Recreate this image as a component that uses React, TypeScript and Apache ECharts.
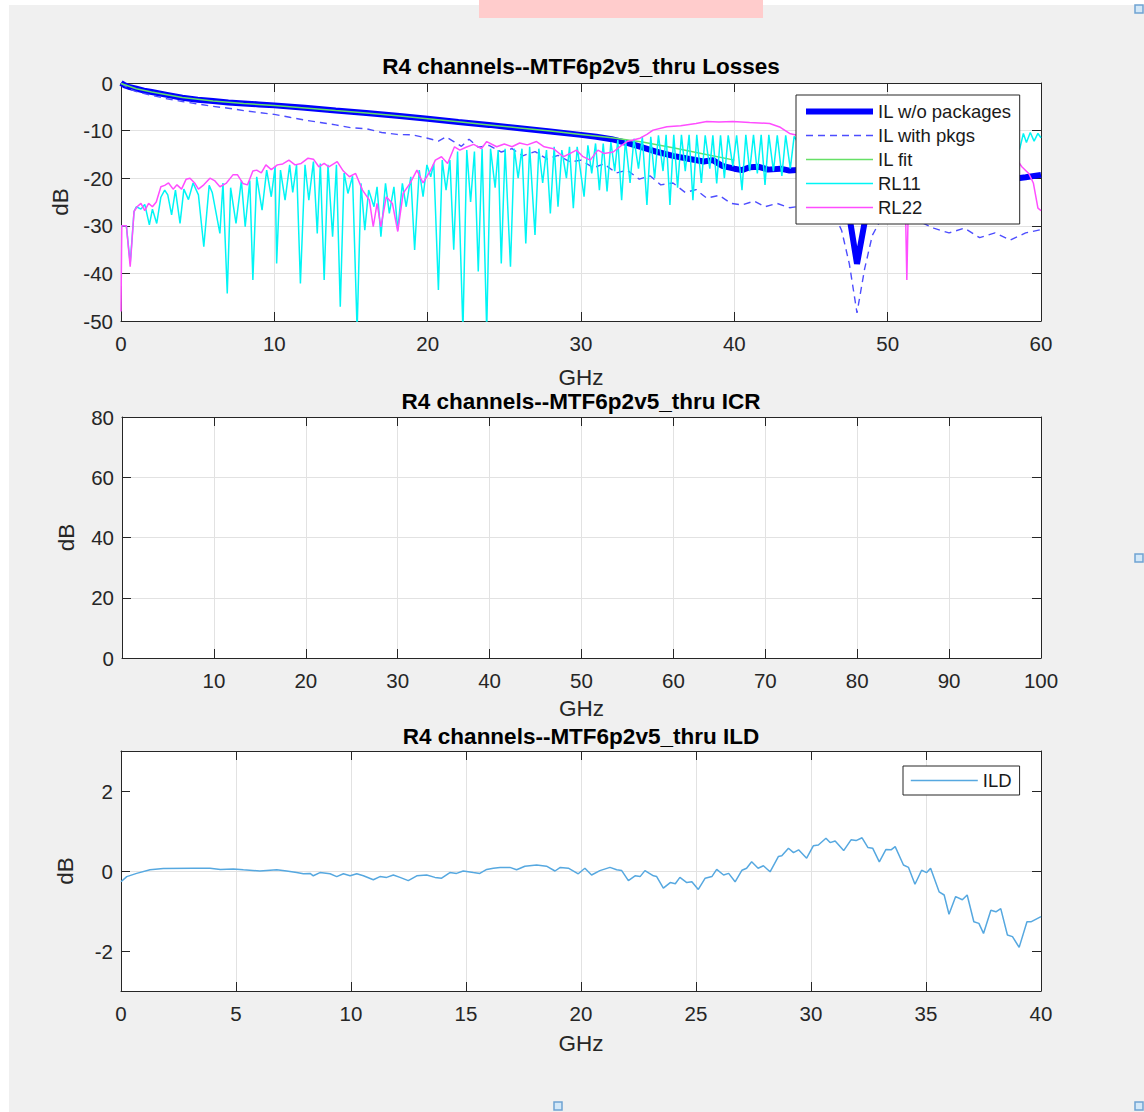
import React, { useEffect, useRef } from 'react';
import * as echarts from 'echarts';

// ---------- texts ----------
const titleLosses = 'R4 channels--MTF6p2v5_thru Losses';
const titleICR = 'R4 channels--MTF6p2v5_thru ICR';
const titleILD = 'R4 channels--MTF6p2v5_thru ILD';
const xName = 'GHz';
const yName = 'dB';
const lossLegend = ['IL w/o packages', 'IL with pkgs', 'IL fit', 'RL11', 'RL22'];
const ildLegend = ['ILD'];

// ---------- axis ranges / ticks ----------
const lossX = [0, 60, 10];
const lossY = [-50, 0, 10];
const icrX = [0, 100, 10];
const icrY = [0, 80, 20];
const ildX = [0, 40, 5];
const ildY = [-3, 3];
const ildYTicks = [-2, 0, 2];

// ---------- data: [GHz, dB] ----------
const ilNoPkg: [number, number][] = [
  [0, 0], [0.25, -0.5], [0.5, -0.8], [1, -1.2], [1.5, -1.6], [2, -1.9], [3, -2.5], [4, -3.1], [5, -3.5],
  [6, -3.8], [7, -4.1], [8, -4.3], [9, -4.5], [10, -4.7], [12, -5.2], [14, -5.8], [16, -6.3], [18, -6.9],
  [20, -7.5], [22, -8.2], [24, -8.8], [26, -9.5], [28, -10.2], [30, -10.9], [31, -11.3], [32, -11.8],
  [33, -12.6], [34, -13.5], [35, -14.5], [36, -15.3], [37, -15.9], [38, -16.5], [38.6, -16.2], [39.2, -17.4],
  [40, -18.0], [40.5, -18.3], [41, -17.7], [41.6, -17.6], [42.2, -18.2], [43, -18.0], [43.6, -18.4],
  [44.5, -18.2], [45.5, -18.6], [46.5, -19.0], [47, -21], [47.5, -28], [48, -38], [48.4, -31], [48.8, -24],
  [49.3, -20], [50, -19.5], [51, -19.6], [52, -20], [53, -20.3], [54, -20.5], [55, -20.4], [56, -20.6],
  [57, -20.3], [58, -20.2], [59, -19.8], [60, -19.3],
];

const ilWithPkg: [number, number][] = [
  [0, 0], [0.5, -1.2], [1, -1.8], [2, -2.6], [3, -3.3], [4, -3.9], [5, -4.4], [6, -4.9], [7, -5.3], [8, -5.8],
  [9, -6.2], [10, -6.6], [11, -7.2], [12, -7.8], [13, -8.3], [14, -8.8], [15, -9.4], [16, -9.6], [17, -10.4],
  [18, -10.8], [19, -10.9], [20, -11.6], [20.7, -12.2], [21.2, -11.3], [21.7, -12.3], [22.2, -13.3],
  [22.7, -11.8], [23.3, -13.5], [24, -13.1], [24.8, -14.5], [25.5, -13.8], [26.2, -15.3], [27, -14.4],
  [27.8, -16.0], [28.5, -15.2], [29.3, -16.6], [30, -16.2], [30.8, -17.8], [31.5, -17.0], [32.3, -18.9],
  [33, -18.3], [33.8, -20.2], [34.5, -19.5], [35.2, -21.4], [36, -21.0], [36.8, -23], [37.5, -22.4],
  [38.2, -24.2], [39, -23.6], [39.8, -25.3], [40.5, -25.6], [41.3, -24.8], [42, -26], [42.8, -25.3],
  [43.6, -26.2], [44.5, -25.8], [45.5, -26.5], [46.5, -27.5], [47, -31], [47.5, -38], [48, -48.3],
  [48.5, -39], [49, -32], [49.5, -29], [50, -28.5], [51, -29.5], [52, -29], [53, -30.5], [54, -31.5],
  [55, -30.5], [56, -32.5], [57, -31.5], [58, -33], [59, -31.5], [60, -30.8],
];

const ilFit: [number, number][] = [
  [0, -0.1], [1, -1.2], [2, -1.9], [4, -3.05], [6, -3.8], [8, -4.3], [10, -4.75], [12, -5.25], [14, -5.8],
  [16, -6.3], [18, -6.9], [20, -7.5], [22, -8.15], [24, -8.8], [26, -9.45], [28, -10.1], [30, -10.8],
  [32, -11.5], [34, -12.4], [36, -13.6], [38, -14.9], [40, -16.2],
];

const rl11: [number, number][] = [
  [0, -30], [0.35, -30], [0.6, -37.9], [0.85, -27], [1.0, -26], [1.3, -26.5], [1.55, -25.5], [1.85, -29.8],
  [2.05, -26.5], [2.33, -29.5], [2.6, -24], [2.85, -22.5], [3.05, -23.5], [3.3, -27.7], [3.55, -22.5],
  [3.85, -29.5], [4.1, -22.3], [4.4, -24.5], [4.7, -21], [5.05, -23.5], [5.4, -34.4], [5.75, -21.5],
  [5.95, -23], [6.45, -31.6], [6.65, -21], [6.93, -44.2], [7.15, -22], [7.5, -29.5], [7.85, -20.5],
  [8.1, -30.2], [8.4, -20.5], [8.6, -41.4], [8.85, -19.7], [9.2, -26.7], [9.5, -18.3], [9.8, -23.9],
  [10.05, -17.6], [10.15, -37.9], [10.4, -18.3], [10.7, -24.6], [11.0, -17.2], [11.2, -23], [11.45, -17.2],
  [11.7, -42.1], [12.0, -17.2], [12.25, -24.6], [12.55, -16.5], [12.8, -31.6], [13.0, -16.9], [13.25, -41.4],
  [13.5, -17.2], [13.8, -32.3], [14.05, -17.2], [14.3, -47], [14.55, -18.9], [14.8, -23.2], [15.1, -19.6],
  [15.4, -52], [15.65, -21.1], [15.9, -30.9], [16.15, -22.5], [16.5, -26], [16.7, -21.8], [16.95, -32.3],
  [17.25, -21.1], [17.5, -27.4], [17.8, -21.8], [18.05, -30.9], [18.35, -21.1], [18.6, -26], [18.9, -19.7],
  [19.15, -35.1], [19.45, -18.3], [19.7, -23.9], [19.95, -17.2], [20.2, -19.7], [20.4, -16.9], [20.7, -43.5],
  [20.95, -16.2], [21.2, -22.5], [21.45, -16.2], [21.7, -35], [21.95, -14.4], [22.3, -52], [22.55, -14.1],
  [22.8, -25], [23.05, -14.4], [23.3, -39.6], [23.55, -13.8], [23.85, -52], [24.1, -13.8], [24.4, -22],
  [24.6, -14.1], [24.8, -37.9], [25.05, -13.8], [25.4, -38.6], [25.65, -13.8], [25.9, -20], [26.15, -13.8],
  [26.4, -33.7], [26.65, -13.4], [27.0, -31.9], [27.25, -13.8], [27.5, -21], [27.75, -14.1], [28.0, -27.4],
  [28.25, -13.4], [28.5, -26], [28.75, -14.1], [29.05, -20], [29.25, -13.4], [29.5, -26.3], [29.75, -13.4],
  [30.2, -23.9], [30.45, -13.1], [30.7, -19], [30.95, -12.7], [31.2, -22.5], [31.45, -12.7], [31.7, -22.8],
  [31.95, -12.4], [32.2, -18.5], [32.4, -12], [32.65, -24.6], [32.9, -12], [33.2, -21], [33.45, -11.7],
  [33.75, -18], [34.0, -11.3], [34.3, -25.6], [34.55, -11.3], [34.8, -20], [35.05, -11], [35.35, -18.5],
  [35.55, -10.9], [35.8, -25.6], [36.05, -10.9], [36.3, -22], [36.55, -10.9], [36.8, -18.5], [37.05, -10.9],
  [37.3, -24.6], [37.55, -10.9], [37.85, -21], [38.1, -11], [38.4, -18], [38.6, -11], [38.85, -21.1],
  [39.1, -11], [39.35, -20], [39.6, -11], [39.9, -17.5], [40.15, -11], [40.5, -22.5], [40.75, -10.9],
  [41.0, -18.5], [41.25, -10.9], [41.5, -19], [41.75, -10.9], [42.0, -21.4], [42.25, -10.9], [42.55, -18.5],
  [42.8, -11], [43.1, -19.5], [43.35, -11], [43.65, -18], [43.9, -11.2], [45, -17], [46, -12], [47, -18],
  [48, -12], [49, -17], [50, -12], [51, -18], [52, -12], [53, -17], [54, -12], [55, -17], [56, -12],
  [57, -16], [58, -11], [58.6, -14], [58.85, -10.6], [59.05, -12.5], [59.3, -10.4], [59.55, -12.2],
  [59.8, -10.6], [60, -11.5],
];

const rl22: [number, number][] = [
  [0, -48], [0.05, -30], [0.35, -30], [0.6, -38.6], [0.85, -27], [1.05, -26], [1.3, -25.3], [1.55, -26.8],
  [1.8, -25.3], [2.05, -26], [2.3, -25], [2.6, -21.8], [2.85, -21.5], [3.1, -21], [3.4, -22.3], [3.65, -21.4],
  [3.95, -22.3], [4.25, -20.2], [4.5, -20], [4.8, -21], [5.05, -22.3], [5.4, -21.4], [5.8, -20], [6.1, -20.5],
  [6.45, -21.8], [6.85, -21.1], [7.3, -19.3], [7.6, -19.3], [7.95, -21.1], [8.25, -21.4], [8.6, -18.5],
  [8.85, -18.3], [9.15, -18.9], [9.45, -17.2], [9.8, -18.2], [10.2, -17.2], [10.55, -17], [10.95, -16.2],
  [11.35, -17.2], [11.75, -16.9], [12.2, -15.8], [12.55, -16], [12.9, -17.6], [13.25, -16.9], [13.55, -17.6],
  [14.1, -16.5], [14.5, -18.5], [14.9, -19.7], [15.3, -19], [15.75, -22.5], [16.2, -24.6], [16.45, -30.2],
  [16.7, -25.3], [16.95, -30.2], [17.3, -23.9], [17.7, -25.3], [18.05, -31.2], [18.4, -23.2], [18.85, -21.1],
  [19.3, -18.3], [19.7, -21], [20.2, -18.3], [20.5, -16.2], [20.9, -15.5], [21.3, -16.9], [21.75, -13.4],
  [22.1, -14.1], [22.5, -13.5], [23.0, -12.9], [23.5, -13.8], [23.85, -12.3], [24.5, -13.4], [25.0, -12.8],
  [25.5, -13.4], [26.0, -12.6], [26.5, -13], [27.1, -12.3], [27.6, -13.4], [28.2, -13.8], [28.85, -15.5],
  [29.3, -14.8], [29.7, -14.1], [30.1, -15.4], [30.6, -16.2], [31.1, -14.1], [31.5, -14.8], [32.1, -14.5],
  [32.6, -13.2], [33.0, -12.3], [33.85, -11.6], [34.3, -10.8], [34.7, -9.9], [35.6, -9.2], [36.5, -9.0],
  [37.5, -8.5], [38.2, -8.1], [39.0, -8.2], [39.9, -8.1], [41.0, -8.3], [42.3, -8.5], [43.0, -9.3],
  [43.6, -10.6], [44.5, -11.3], [46, -12], [48, -13], [50, -14], [51.1, -16], [51.25, -41.4], [51.4, -17],
  [53, -14.5], [55, -13], [57, -13.5], [58.2, -15], [58.75, -17.6], [59.2, -19], [59.5, -21], [59.8, -26.3],
  [60, -26.8],
];

const ild: [number, number][] = [
  [0, -0.27], [0.25, -0.14], [0.68, -0.06], [1.26, 0.03], [1.84, 0.06], [3.14, 0.07], [3.87, 0.07],
  [4.32, 0.04], [4.88, 0.05], [5.32, 0.03], [6.04, 0.0], [6.77, 0.03], [7.2, 0.0], [7.64, -0.04],
  [7.93, -0.07], [8.22, -0.06], [8.36, -0.12], [8.65, -0.04], [9.09, -0.07], [9.38, -0.14], [9.67, -0.07],
  [9.96, -0.12], [10.25, -0.07], [10.54, -0.12], [10.97, -0.22], [11.26, -0.14], [11.55, -0.16],
  [11.84, -0.1], [12.13, -0.16], [12.49, -0.24], [12.86, -0.12], [13.29, -0.1], [13.65, -0.16],
  [13.94, -0.18], [14.3, -0.04], [14.59, -0.06], [14.88, 0.0], [15.32, -0.04], [15.6, -0.06], [15.9, 0.04],
  [16.19, 0.07], [16.48, 0.09], [16.91, 0.09], [17.2, 0.03], [17.56, 0.12], [18.07, 0.15], [18.5, 0.12],
  [18.87, 0.0], [19.1, 0.09], [19.45, 0.07], [19.88, -0.07], [20.17, 0.07], [20.46, -0.1], [20.82, 0.01],
  [21.26, 0.09], [21.55, 0.03], [21.77, 0.01], [22.06, -0.24], [22.35, -0.12], [22.57, -0.14], [22.78, 0.01],
  [23.15, -0.12], [23.29, -0.14], [23.58, -0.43], [23.88, -0.29], [24.1, -0.32], [24.3, -0.16], [24.6, -0.29],
  [24.82, -0.27], [25.1, -0.46], [25.4, -0.18], [25.69, -0.14], [25.9, 0.04], [26.2, -0.1], [26.42, -0.06],
  [26.7, -0.27], [27.0, 0.02], [27.2, 0.07], [27.42, 0.23], [27.7, 0.07], [27.93, 0.13], [28.22, -0.02],
  [28.58, 0.36], [28.73, 0.38], [29.02, 0.57], [29.24, 0.46], [29.46, 0.53], [29.81, 0.32], [30.1, 0.63],
  [30.32, 0.65], [30.65, 0.82], [30.83, 0.71], [31.05, 0.75], [31.42, 0.51], [31.74, 0.78], [31.96, 0.76],
  [32.22, 0.83], [32.47, 0.59], [32.68, 0.57], [32.97, 0.23], [33.26, 0.54], [33.48, 0.53], [33.66, 0.61],
  [34.02, 0.15], [34.24, 0.09], [34.52, -0.33], [34.81, 0.02], [35.03, -0.04], [35.2, 0.07], [35.57, -0.52],
  [35.79, -0.6], [36.0, -1.08], [36.29, -0.64], [36.58, -0.72], [36.79, -0.6], [37.08, -1.27], [37.3, -1.31],
  [37.5, -1.56], [37.82, -0.98], [38.04, -1.02], [38.25, -0.94], [38.54, -1.6], [38.76, -1.64], [39.05, -1.91],
  [39.39, -1.27], [39.56, -1.27], [40, -1.14],
];

// ---------- style constants ----------
const FONT = '"Liberation Sans", Arial, Helvetica, sans-serif';
const AX = '#262626';
const GRIDC = '#e2e2e2';
const TICK_FS = 20.5;
const LABEL_FS = 22.5;

const grids = [
  { left: 121, top: 83, width: 920, height: 238 },
  { left: 122, top: 417, width: 919, height: 241 },
  { left: 121, top: 751, width: 920, height: 240 },
];
const xNameGaps = [45, 39, 41];

function primaryX(gi: number, r: number[], extra: any = {}) {
  return {
    type: 'value', gridIndex: gi, position: 'bottom', min: r[0], max: r[1], interval: r[2],
    axisLine: { show: true, onZero: false, lineStyle: { color: AX, width: 1 } },
    axisTick: { show: true, inside: true, length: 9, lineStyle: { color: AX } },
    axisLabel: { color: AX, fontSize: TICK_FS, fontFamily: FONT, margin: 12, ...(extra.axisLabel || {}) },
    splitLine: { show: true, showMinLine: false, showMaxLine: false, lineStyle: { color: GRIDC, width: 1 } },
    name: xName, nameLocation: 'middle', nameGap: xNameGaps[gi],
    nameTextStyle: { color: AX, fontSize: LABEL_FS, fontFamily: FONT },
  };
}
function secondaryX(gi: number, r: number[]) {
  return {
    type: 'value', gridIndex: gi, position: 'top', min: r[0], max: r[1], interval: r[2],
    axisLine: { show: true, onZero: false, lineStyle: { color: AX, width: 1 } },
    axisTick: { show: true, inside: true, length: 9, lineStyle: { color: AX } },
    axisLabel: { show: false }, splitLine: { show: false },
  };
}
function primaryY(gi: number, r: number[], extra: any = {}) {
  return {
    type: 'value', gridIndex: gi, position: 'left', min: r[0], max: r[1], interval: r[2],
    axisLine: { show: true, onZero: false, lineStyle: { color: AX, width: 1 } },
    axisTick: { show: true, inside: true, length: 9, lineStyle: { color: AX }, ...(extra.axisTick || {}) },
    axisLabel: { color: AX, fontSize: TICK_FS, fontFamily: FONT, margin: 8, ...(extra.axisLabel || {}) },
    splitLine: { show: true, showMinLine: false, showMaxLine: false, lineStyle: { color: GRIDC, width: 1 } },
    name: yName, nameLocation: 'middle', nameGap: 44,
    nameTextStyle: { color: AX, fontSize: LABEL_FS, fontFamily: FONT },
  };
}
function secondaryY(gi: number, r: number[], extra: any = {}) {
  return {
    type: 'value', gridIndex: gi, position: 'right', min: r[0], max: r[1], interval: r[2],
    axisLine: { show: true, onZero: false, lineStyle: { color: AX, width: 1 } },
    axisTick: { show: true, inside: true, length: 9, lineStyle: { color: AX }, ...(extra.axisTick || {}) },
    axisLabel: { show: false }, splitLine: { show: false },
  };
}

function titleText(text: string, y: number) {
  return {
    type: 'text', x: 581, y, z: 10,
    style: {
      text, fill: '#000', font: `bold 22.5px ${FONT}`,
      align: 'center', verticalAlign: 'middle', textAlign: 'center', textVerticalAlign: 'middle',
    },
  };
}

function squareMark(x: number, y: number) {
  return { type: 'rect', z: 20, shape: { x, y, width: 8, height: 8 }, style: { fill: '#d3e8f8', stroke: '#6fa3d2', lineWidth: 1.5 } };
}

export default function App() {
  const ref = useRef<HTMLDivElement>(null);

  useEffect(() => {
    if (!ref.current) return;
    const chart = echarts.init(ref.current, undefined, { renderer: 'svg' });
    const legendText = { fontSize: 18.5, fontFamily: FONT, color: '#1a1a1a' };
    const hiddenSymbol = { opacity: 0, borderWidth: 0 };
    const option: any = {
      animation: false,
      backgroundColor: 'transparent',
      grid: grids.map((g) => ({ ...g, show: true, backgroundColor: '#ffffff', borderWidth: 0, containLabel: false })),
      xAxis: [
        primaryX(0, lossX), secondaryX(0, lossX),
        primaryX(1, icrX, { axisLabel: { formatter: (v: number) => (v === 0 ? '' : String(v)) } }), secondaryX(1, icrX),
        primaryX(2, ildX), secondaryX(2, ildX),
      ],
      yAxis: [
        primaryY(0, lossY), secondaryY(0, lossY),
        primaryY(1, icrY), secondaryY(1, icrY),
        primaryY(2, [ildY[0], ildY[1], 1], { axisTick: { customValues: ildYTicks }, axisLabel: { customValues: ildYTicks } }),
        secondaryY(2, [ildY[0], ildY[1], 1], { axisTick: { customValues: ildYTicks } }),
      ],
      legend: [
        {
          data: [
            { name: lossLegend[0], lineStyle: { width: 6 }, itemStyle: hiddenSymbol },
            { name: lossLegend[1], lineStyle: { width: 1.4 }, itemStyle: hiddenSymbol },
            { name: lossLegend[2], lineStyle: { width: 1.6 }, itemStyle: hiddenSymbol },
            { name: lossLegend[3], lineStyle: { width: 1.6 }, itemStyle: hiddenSymbol },
            { name: lossLegend[4], lineStyle: { width: 1.6 }, itemStyle: hiddenSymbol },
          ],
          orient: 'vertical', left: 796, top: 95, itemWidth: 67, itemHeight: 14, itemGap: 5,
          padding: [7, 8, 7, 7], backgroundColor: '#ffffff', borderColor: AX, borderWidth: 1, borderRadius: 0,
          textStyle: legendText, selectedMode: false, z: 6, itemStyle: hiddenSymbol,
        },
        {
          data: [{ name: ildLegend[0], lineStyle: { width: 1.6 }, itemStyle: hiddenSymbol }],
          orient: 'vertical', left: 903, top: 766, itemWidth: 67, itemHeight: 14,
          padding: [5, 8, 5, 7], backgroundColor: '#ffffff', borderColor: AX, borderWidth: 1, borderRadius: 0,
          textStyle: legendText, selectedMode: false, z: 6, itemStyle: hiddenSymbol,
        },
      ],
      series: [
        { name: lossLegend[0], type: 'line', xAxisIndex: 0, yAxisIndex: 0, data: ilNoPkg, symbol: 'none', color: '#0000ff', lineStyle: { color: '#0000ff', width: 6 } },
        { name: lossLegend[1], type: 'line', xAxisIndex: 0, yAxisIndex: 0, data: ilWithPkg, symbol: 'none', color: '#4d4dff', lineStyle: { color: '#4d4dff', width: 1.4, type: [7, 5] } },
        { name: lossLegend[2], type: 'line', xAxisIndex: 0, yAxisIndex: 0, data: ilFit, symbol: 'none', color: '#66e066', lineStyle: { color: '#66e066', width: 1.5 } },
        { name: lossLegend[3], type: 'line', xAxisIndex: 0, yAxisIndex: 0, data: rl11, symbol: 'none', color: '#00f5f5', lineStyle: { color: '#00f5f5', width: 1.5 } },
        { name: lossLegend[4], type: 'line', xAxisIndex: 0, yAxisIndex: 0, data: rl22, symbol: 'none', color: '#ff4dff', lineStyle: { color: '#ff4dff', width: 1.5 } },
        { name: ildLegend[0], type: 'line', xAxisIndex: 4, yAxisIndex: 4, data: ild, symbol: 'none', color: '#56a8e0', lineStyle: { color: '#56a8e0', width: 1.5 } },
      ],
      graphic: [
        { type: 'rect', z: 20, shape: { x: 479, y: 0, width: 284, height: 18 }, style: { fill: '#ffcccc' } },
        titleText(titleLosses, 66),
        titleText(titleICR, 401),
        titleText(titleILD, 736),
        squareMark(1135, 5),
        squareMark(1135, 554),
        squareMark(554, 1102),
        squareMark(1135, 1102),
      ],
    };
    chart.setOption(option);
    return () => chart.dispose();
  }, []);

  return (
    <div style={{ position: 'fixed', left: 0, top: 0, width: 1144, height: 1112, background: '#ffffff', overflow: 'hidden' }}>
      <div style={{ position: 'absolute', left: 9, top: 5, right: 0, bottom: 0, background: '#f0f0f0' }} />
      <div ref={ref} style={{ position: 'absolute', left: 0, top: 0, width: 1144, height: 1112 }} />
    </div>
  );
}
